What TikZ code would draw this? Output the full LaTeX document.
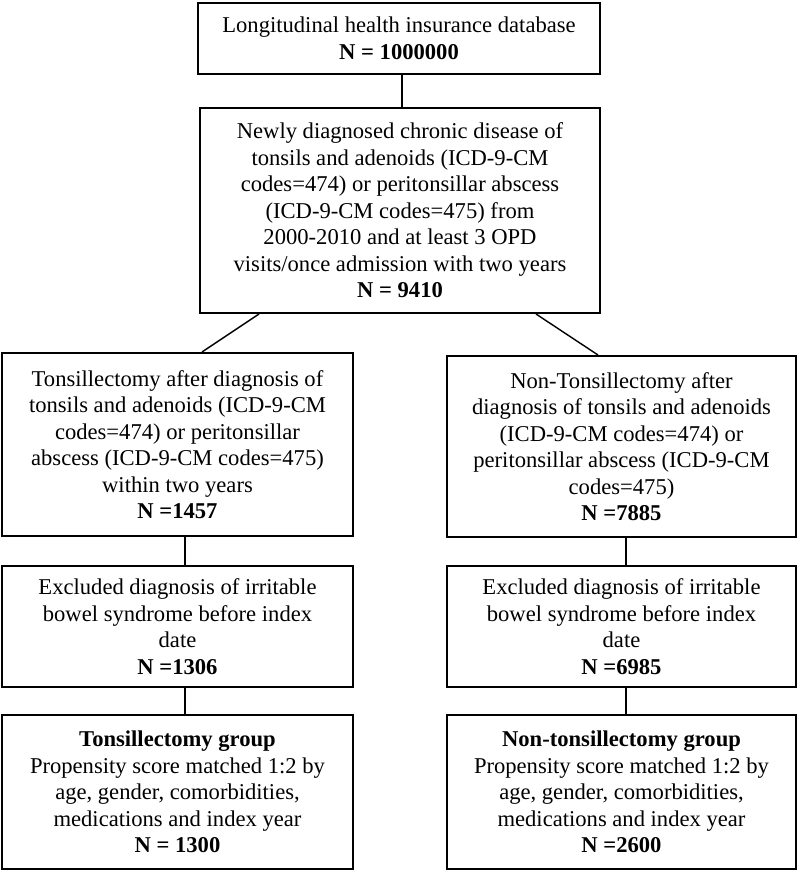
\documentclass[tikz,border=0pt]{standalone}
\usepackage{fontspec}
\setmainfont{Liberation Serif}
\usepackage{tikz}
\usetikzlibrary{calc}

\begin{document}
\begin{tikzpicture}[x=1pt, y=-1pt,
	box/.style={draw, line width=2pt, rectangle, align=center, inner sep=0pt,
		font=\fontsize{22.6}{26.5}\selectfont},
	link/.style={line width=1.8pt}]
	\useasboundingbox (0,0) rectangle (800,872);
	\def\wl{351} % width of left boxes
	\def\wr{349} % width of right boxes
	
	% top of the chart
	\node[box, minimum width=402, minimum height=71] (db) at (399,38.5)
	{Longitudinal health insurance database\\ \textbf{N = 1000000}};
	\node[box, minimum width=400, minimum height=205] (diag) at (400,210.5)
	{Newly diagnosed chronic disease of\\ tonsils and adenoids (ICD-9-CM\\
		codes=474) or peritonsillar abscess\\ (ICD-9-CM codes=475) from\\
		2000-2010 and at least 3 OPD\\ visits/once admission with two years\\
		\textbf{N = 9410}};
	
	% second row
	\node[box, minimum width=\wl, minimum height=183] (tons) at (177.5,444.5)
	{Tonsillectomy after diagnosis of\\ tonsils and adenoids (ICD-9-CM\\
		codes=474) or peritonsillar\\ abscess (ICD-9-CM codes=475)\\
		within two years\\ \textbf{N =1457}};
	\node[box, minimum width=\wr, minimum height=181] (nontons) at (621.5,446.5)
	{Non-Tonsillectomy after\\ diagnosis of tonsils and adenoids\\
		(ICD-9-CM codes=474) or\\ peritonsillar abscess (ICD-9-CM\\
		codes=475)\\ \textbf{N =7885}};
	
	% exclusion
	\node[box, minimum width=\wl, minimum height=121] (exclL) at (177.5,626.5)
	{Excluded diagnosis of irritable\\ bowel syndrome before index\\ date\\
		\textbf{N =1306}};
	\node[box, minimum width=\wr, minimum height=121] (exclR) at (621.5,626.5)
	{Excluded diagnosis of irritable\\ bowel syndrome before index\\ date\\
		\textbf{N =6985}};
	
	% matched groups
	\node[box, minimum width=\wl, minimum height=154] (grpL) at (177.5,792)
	{\textbf{Tonsillectomy group}\\ Propensity score matched 1:2 by\\
		age, gender, comorbidities,\\ medications and index year\\
		\textbf{N = 1300}};
	\node[box, minimum width=\wr, minimum height=154] (grpR) at (621.5,792)
	{\textbf{Non-tonsillectomy group}\\ Propensity score matched 1:2 by\\
		age, gender, comorbidities,\\ medications and index year\\
		\textbf{N =2600}};
	
	% connectors
	\draw[link] ([xshift=3pt]db.south) -- ([xshift=2pt]diag.north);
	\draw[link, line width=1.4pt] ([xshift=-141pt]diag.south) -- ([xshift=24.5pt]tons.north);
	\draw[link, line width=1.4pt] ([xshift=136pt]diag.south) -- ([xshift=-23.5pt]nontons.north);
	\draw[link] ([xshift=7.5pt]tons.south) -- ([xshift=7.5pt]exclL.north);
	\draw[link] ([xshift=4.5pt]nontons.south) -- ([xshift=4.5pt]exclR.north);
	\draw[link] ([xshift=7.5pt]exclL.south) -- ([xshift=7.5pt]grpL.north);
	\draw[link] ([xshift=4.5pt]exclR.south) -- ([xshift=4.5pt]grpR.north);
\end{tikzpicture}
\end{document}
